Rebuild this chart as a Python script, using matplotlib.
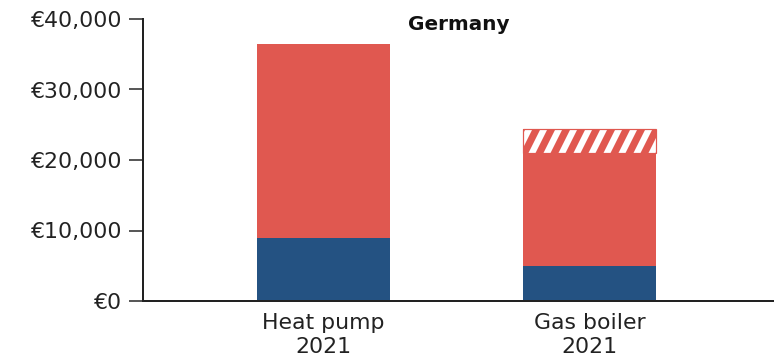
import matplotlib
matplotlib.use("Agg")
import matplotlib.pyplot as plt
import numpy as np
from matplotlib.ticker import FuncFormatter
from matplotlib.transforms import IdentityTransform

# Cost components per heating system (euros)
categories = ["Heat pump\n2021", "Gas boiler\n2021"]
blue_part = [8900, 4900]
red_part = [27500, 16100]
hatched_part = [0, 3400]
yticks = [0, 10000, 20000, 30000, 40000]

RED = "#E05850"
BLUE = "#245282"
AXIS = "#222222"
TEXT = "#222222"

plt.rcParams["font.family"] = ["DejaVu Sans"]

DPI = 72
fig = plt.figure(figsize=(774 / DPI, 363 / DPI), dpi=DPI)
ax = fig.add_axes([143 / 774, 62 / 363, 631 / 774, 282 / 363])

x = list(range(len(categories)))
width = 0.5
ax.bar(x, blue_part, width, color=BLUE, linewidth=0)
ax.bar(x, red_part, width, bottom=blue_part, color=RED, linewidth=0)
tops = [b + r for b, r in zip(blue_part, red_part)]

ax.set_xlim(-0.6786, 1.6936)
ax.set_ylim(0, 40000)

# Striped segment: red bar with white diagonal stripes clipped to it
for xi, h, b in zip(x, hatched_part, tops):
    if h <= 0:
        continue
    patch = ax.bar(xi, h, width, bottom=b, color=RED, linewidth=0)[0]
    (x0, y0), (x1, y1) = ax.transData.transform(
        [(xi - width / 2, b), (xi + width / 2, b + h)])
    period = 15.0   # horizontal distance between stripes, px
    lean = 0.5      # horizontal shift per px of height
    ht = y1 - y0
    pad = ht * 0.3
    starts = np.arange(x0 + 6 - (ht + pad) * lean - period, x1 + period, period)
    for s in starts:
        ln, = ax.plot([s, s + (ht + 2 * pad) * lean],
                      [y0 - pad, y1 + pad],
                      transform=IdentityTransform(), color="white",
                      linewidth=6.3, solid_capstyle="butt", zorder=3)
        ln.set_clip_path(patch)
    # thin red rim around the striped block
    ax.bar(xi, h, width, bottom=b, facecolor="none", edgecolor=RED,
           linewidth=1.2, zorder=4)

ax.set_yticks(yticks)
ax.yaxis.set_major_formatter(FuncFormatter(lambda v, p: f"€{int(v):,}"))
ax.set_xticks(x)
ax.set_xticklabels(categories, linespacing=1.25)

for s in ["top", "right"]:
    ax.spines[s].set_visible(False)
for s in ["left", "bottom"]:
    ax.spines[s].set_color(AXIS)
    ax.spines[s].set_linewidth(2)
    ax.spines[s].set_zorder(5)

ax.tick_params(axis="y", length=14, width=1.5, color=AXIS, pad=7,
               labelsize=22, labelcolor=TEXT)
ax.tick_params(axis="x", length=0, pad=12, labelsize=22, labelcolor=TEXT)

ax.text(0.5, 0.962, "Germany", transform=ax.transAxes, ha="center",
        va="baseline", fontsize=20, fontweight="bold", color="#111111")

fig.savefig("out.png", dpi=DPI)
